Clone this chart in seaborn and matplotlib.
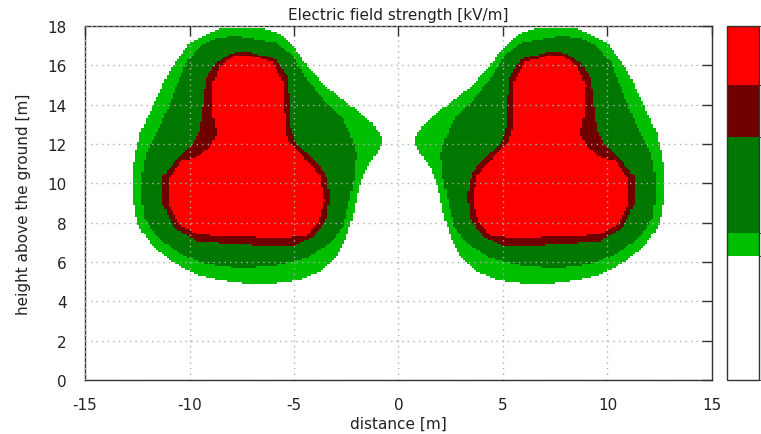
"""
Electric field strength below a double overhead line - discrete bands.
Band outlines are read off the reference picture (left circuit), the
right circuit is the mirror image.
"""

import numpy as np
import pandas as pd
import matplotlib
matplotlib.use("Agg")
import matplotlib.pyplot as plt
from matplotlib.colors import ListedColormap, BoundaryNorm
from matplotlib.path import Path
import seaborn as sns


# ---------------------------------------------------------------------------
# Data
# ---------------------------------------------------------------------------

# colour bar band edges (normalised field strength, bottom -> top)
LEVELS = [0.0, 0.35, 0.415, 0.686, 0.833, 1.0]
BAND_COLORS = ["#ffffff", "#00be00", "#007800", "#700000", "#ff0000"]

# outer edge of each band, left circuit, (distance [m], height [m])
LIGHT_GREEN = [
    (-7.6, 17.95), (-6.6, 17.9), (-5.7, 17.6), (-4.9, 16.8), (-4.4, 16.0),
    (-3.5, 14.95), (-2.2, 13.9), (-1.25, 13.05), (-0.85, 12.4),
    (-0.76, 12.0), (-0.92, 11.75), (-1.55, 10.75), (-1.87, 9.85),
    (-2.2, 8.3), (-2.5, 7.25), (-3.0, 6.2), (-3.8, 5.5), (-4.75, 5.1),
    (-6.0, 4.92), (-7.3, 4.92), (-8.55, 5.1), (-9.65, 5.35), (-10.9, 6.05),
    (-11.85, 6.9), (-12.5, 7.95), (-12.7, 9.2), (-12.7, 10.7),
    (-12.6, 11.5), (-12.35, 12.55), (-11.7, 14.1), (-10.9, 15.8),
    (-10.0, 17.15), (-8.5, 17.9),
]
DARK_GREEN = [
    (-7.75, 17.5), (-5.85, 17.15), (-5.05, 16.5), (-4.4, 15.3),
    (-3.45, 14.1), (-2.65, 13.25), (-2.2, 12.2), (-2.03, 11.5),
    (-2.1, 10.4), (-2.35, 9.15), (-2.65, 7.8), (-3.3, 6.9), (-4.4, 6.2),
    (-6.0, 5.8), (-7.6, 5.7), (-9.2, 5.9), (-10.45, 6.4), (-11.55, 7.25),
    (-12.2, 8.3), (-12.35, 10.0), (-12.1, 11.5), (-11.4, 12.9),
    (-10.75, 14.6), (-10.15, 16.15), (-9.5, 17.0), (-8.7, 17.4),
]
DARK_RED = [
    (-7.3, 16.75), (-5.85, 16.3), (-5.35, 15.45), (-5.2, 14.1),
    (-5.2, 12.9), (-4.9, 12.05), (-4.2, 11.4), (-3.5, 10.55), (-3.3, 9.35),
    (-3.45, 8.15), (-4.1, 7.25), (-5.0, 6.8), (-6.2, 6.75), (-7.4, 6.9),
    (-8.6, 6.95), (-9.7, 7.05), (-10.75, 7.75), (-11.3, 9.0),
    (-11.25, 10.4), (-10.6, 11.25), (-9.95, 11.85), (-9.5, 12.7),
    (-9.35, 13.9), (-9.2, 15.3), (-8.7, 16.15), (-8.0, 16.6),
]
RED = [
    (-7.3, 16.55), (-6.0, 16.15), (-5.5, 15.1), (-5.45, 13.6),
    (-5.45, 12.7), (-5.2, 12.0), (-4.55, 11.35), (-3.75, 10.4),
    (-3.55, 9.15), (-3.8, 8.1), (-4.4, 7.35), (-5.4, 7.2), (-6.5, 7.2),
    (-7.3, 7.35), (-8.5, 7.3), (-9.6, 7.4), (-10.55, 7.95), (-11.05, 9.0),
    (-11.0, 10.2), (-10.4, 11.15), (-9.65, 11.35), (-9.0, 11.85),
    (-8.7, 12.55), (-8.9, 13.6), (-8.95, 14.95), (-8.55, 15.95),
    (-7.9, 16.45),
]
BANDS = [LIGHT_GREEN, DARK_GREEN, DARK_RED, RED]

X_TICKS = [-15, -10, -5, 0, 5, 10, 15]
Y_TICKS = [0, 2, 4, 6, 8, 10, 12, 14, 16, 18]

X_RANGE = (-15, 15)
Y_RANGE = (0, 18)
STEP = 0.1


# ---------------------------------------------------------------------------
# Grid of field values
# ---------------------------------------------------------------------------

def build_field():
    """Rasterise the band outlines (and their mirror) on a regular grid."""
    xc = np.arange(X_RANGE[0] + STEP / 2, X_RANGE[1], STEP)
    yc = np.arange(Y_RANGE[1] - STEP / 2, Y_RANGE[0], -STEP)  # top row first
    xx, yy = np.meshgrid(xc, yc)
    pts = np.column_stack([xx.ravel(), yy.ravel()])

    mids = [(a + b) / 2 for a, b in zip(LEVELS[:-1], LEVELS[1:])]
    field = np.full(len(pts), mids[0])
    for k, outline in enumerate(BANDS, start=1):
        left = np.array(outline)
        right = left * [-1, 1]
        inside = Path(left).contains_points(pts) | Path(right).contains_points(pts)
        field[inside] = mids[k]

    return pd.DataFrame(field.reshape(xx.shape),
                        index=np.round(yc, 2), columns=np.round(xc, 2))


# ---------------------------------------------------------------------------
# Plot
# ---------------------------------------------------------------------------

sns.set_style("white")
plt.rcParams["font.family"] = ["DejaVu Sans"]
plt.rcParams["font.size"] = 11

df = build_field()

fig = plt.figure(figsize=(7.61, 4.35), dpi=100)
ax = fig.add_axes([0.1117, 0.1241, 0.8239, 0.8138])
cax = fig.add_axes([0.9553, 0.1241, 0.042, 0.8138])

cmap = ListedColormap(BAND_COLORS)
norm = BoundaryNorm(LEVELS, cmap.N)

sns.heatmap(df, ax=ax, cbar_ax=cax, cmap=cmap, norm=norm,
            xticklabels=False, yticklabels=False,
            cbar_kws={"spacing": "proportional", "ticks": []})

# heatmap positions are cell indices -> convert the tick values
ax.set_xticks([(v - X_RANGE[0]) / STEP for v in X_TICKS])
ax.set_xticklabels([str(v) for v in X_TICKS])
ax.set_yticks([(Y_RANGE[1] - v) / STEP for v in Y_TICKS])
ax.set_yticklabels([str(v) for v in Y_TICKS], rotation=0)

ax.tick_params(direction="in", top=True, right=True, length=7,
               width=1, colors="#333333", labelcolor="#222222")
ax.tick_params(axis="x", pad=12)
ax.tick_params(axis="y", pad=13)
for spine in ax.spines.values():
    spine.set_visible(True)
    spine.set_color("#333333")
    spine.set_linewidth(1)

ax.set_axisbelow(False)
ax.grid(True, color="#b0b0b0", linestyle=(0, (1, 3)), linewidth=1)

ax.set_title("Electric field strength [kV/m]", fontsize=11,
             color="#222222", pad=5)
ax.set_xlabel("distance [m]", color="#222222", labelpad=3)
ax.set_ylabel("height above the ground [m]", color="#222222", labelpad=12)

cbar = ax.collections[0].colorbar
cbar.outline.set_linewidth(1)
cbar.outline.set_edgecolor("#333333")
cax.tick_params(length=0)

fig.savefig("out.png", dpi=100)
